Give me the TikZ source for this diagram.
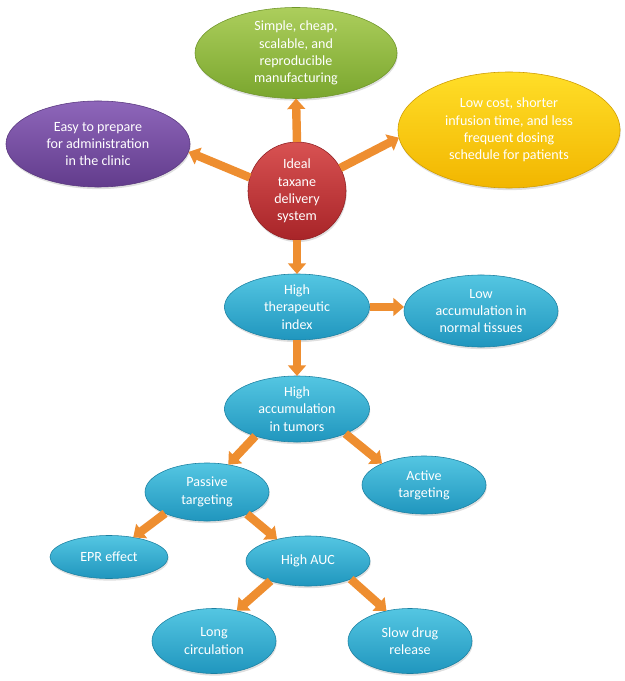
\documentclass[tikz,border=0pt]{standalone}
\usepackage{fontspec}
\setmainfont{Carlito}
\usepackage{tikz}
\usetikzlibrary{positioning,arrows.meta,shapes.geometric,shadows}

\definecolor{grntop}{RGB}{172,206,92}
\definecolor{grnbot}{RGB}{122,166,46}
\definecolor{prptop}{RGB}{142,102,186}
\definecolor{prpbot}{RGB}{98,60,140}
\definecolor{yeltop}{RGB}{255,222,40}
\definecolor{yelbot}{RGB}{242,182,0}
\definecolor{redtop}{RGB}{216,82,82}
\definecolor{redbot}{RGB}{168,36,40}
\definecolor{blutop}{RGB}{84,198,226}
\definecolor{blubot}{RGB}{32,150,190}
\definecolor{arrorange}{RGB}{238,142,48}

\begin{document}
\begin{tikzpicture}[x=0.025cm,y=-0.025cm,
    bubble/.style={ellipse,inner sep=0pt,outer sep=0pt,align=center,text=white,
        font=\fontsize{10}{12.3}\selectfont,
        drop shadow={opacity=0.25,shadow xshift=0.5pt,shadow yshift=-1.5pt}},
    greenbub/.style={bubble,top color=grntop,bottom color=grnbot,draw=grnbot!90!black},
    purplebub/.style={bubble,top color=prptop,bottom color=prpbot,draw=prpbot!90!black},
    yellowbub/.style={bubble,top color=yeltop,bottom color=yelbot,draw=yelbot!85!black},
    bluebub/.style={bubble,top color=blutop,bottom color=blubot,draw=blubot!85!black},
    hub/.style={bubble,circle,top color=redtop,bottom color=redbot,draw=redbot!85!black},
    flow/.style={draw=arrorange,line width=6pt,
        -{Triangle[width=12.5pt,length=7.5pt]}}]
    % keep the page at the size of the original
    \useasboundingbox (0,0) rectangle (624,681);

    % centre and its four aims
    \node[hub,minimum size=2.45cm] (ideal) at (297,191) {Ideal\\taxane\\delivery\\system};
    \node[greenbub,minimum width=5.05cm,minimum height=2.275cm] (simple) at (296,53)
        {Simple, cheap,\\scalable, and\\reproducible\\manufacturing};
    \node[purplebub,minimum width=4.6cm,minimum height=2.15cm] (easy) at (98,144)
        {Easy to prepare\\for administration\\in the clinic};
    \node[yellowbub,minimum width=5.55cm,minimum height=2.9cm] (lowcost) at (509,130)
        {Low cost, shorter\\infusion time, and less\\frequent dosing\\schedule for patients};
    \node[bluebub,minimum width=3.625cm,minimum height=1.65cm] (hti) at (297,307)
        {High\\therapeutic\\index};

    % therapeutic index branch
    \node[bluebub,minimum width=3.85cm,minimum height=1.8cm] (lowacc) at (481,311)
        {Low\\accumulation in\\normal tissues};
    \node[bluebub,minimum width=3.625cm,minimum height=1.65cm] (hacc) at (297,409)
        {High\\accumulation\\in tumors};
    \node[bluebub,minimum width=3.1cm,minimum height=1.45cm] (passive) at (207,492)
        {Passive\\targeting};
    \node[bluebub,minimum width=3.1cm,minimum height=1.45cm] (active) at (424,485)
        {Active\\targeting};
    \node[bluebub,minimum width=2.95cm,minimum height=1.075cm] (epr) at (109,557)
        {EPR effect};
    \node[bluebub,minimum width=3.1cm,minimum height=1.25cm] (hauc) at (308,561)
        {High AUC};
    \node[bluebub,minimum width=3.1cm,minimum height=1.625cm] (longc) at (214,641)
        {Long\\circulation};
    \node[bluebub,minimum width=3.1cm,minimum height=1.625cm] (slow) at (410,641)
        {Slow drug\\release};

    % arrows
    \draw[flow] (ideal.north) -- (simple.south);
    \draw[flow] (ideal.164) -- (easy.-5);
    \draw[flow] (ideal.28) -- (lowcost.184);
    \draw[flow] (ideal.south) -- (hti.north);
    \draw[flow] (hti.east) -- (hti.east -| lowacc.west);
    \draw[flow] (hti.south) -- (hacc.north);
    \draw[flow] (hacc.213) -- (passive.52);
    \draw[flow] (hacc.-27) -- (active.153);
    \draw[flow] (passive.207) -- (epr.39);
    \draw[flow] (passive.-29) -- (hauc.145);
    \draw[flow] (hauc.208) -- (longc.53);
    \draw[flow] (hauc.-23) -- (slow.128);
\end{tikzpicture}
\end{document}
